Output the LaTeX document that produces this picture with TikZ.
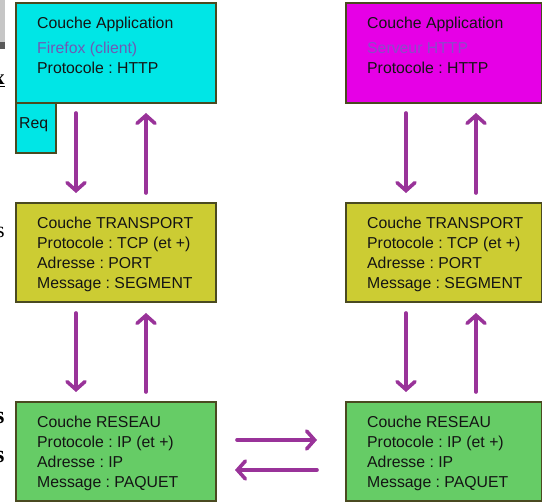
\documentclass[tikz,border=0pt]{standalone}
\usepackage{fontspec}
\setmainfont{Liberation Sans}
\newfontfamily\serifpart{Liberation Serif}
\usetikzlibrary{arrows.meta}
\frenchspacing
\definecolor{appcyan}{HTML}{00E6E6}
\definecolor{appmagenta}{HTML}{E600E6}
\definecolor{transolive}{HTML}{CCCC33}
\definecolor{netgreen}{HTML}{66CC66}
\definecolor{edgebrown}{HTML}{4A4A20}
\definecolor{flowpurple}{HTML}{993399}
\definecolor{softviolet}{HTML}{6E5AB4}
\definecolor{dimviolet}{HTML}{8A4CC8}
\definecolor{inkdark}{HTML}{141414}
\tikzset{
  layer/.style={draw=edgebrown, line width=1.8pt},
  lbl/.style={anchor=base west, inner sep=0pt, text=inkdark,
    font=\fontsize{15.8}{18}\selectfont},
  flow/.style={draw=flowpurple, line width=3.6pt, line cap=round,
    -{Straight Barb[length=8pt, width=18pt, line cap=round]}},
  scrap/.style={anchor=base west, inner sep=0pt, font=\serifpart\fontsize{22}{24}\selectfont},
}
\begin{document}
\begin{tikzpicture}[x=1pt, y=-1pt]
\useasboundingbox (0,0) rectangle (542,502);
\clip (0,0) rectangle (542,502);

% fragments of neighbouring page content at the left edge
\fill[gray!45] (-5,-2) rectangle (4.5,42);
\fill[black!65] (-5,42) rectangle (4.5,49);
\node[scrap, font=\serifpart\bfseries\fontsize{21}{24}\selectfont] (fx) at (-6,85) {\underline{x}};
\node[scrap] (fs1) at (-4,238) {s};
\node[scrap, font=\serifpart\bfseries\fontsize{24}{26}\selectfont] (fs2) at (-5,424) {s};
\node[scrap, font=\serifpart\bfseries\fontsize{24}{26}\selectfont] (fs3) at (-5,463) {s};

% layer boxes
\path[layer, fill=appcyan] (16,3) rectangle (216,103);
\path[layer, fill=appcyan] (16,103) rectangle (56,153);
\path[layer, fill=appmagenta] (346,3) rectangle (542,103);

\path[layer, fill=transolive] (16,203) rectangle (216,302);
\path[layer, fill=transolive] (346,203) rectangle (542,302);
\path[layer, fill=netgreen] (16,402) rectangle (216,501);
\path[layer, fill=netgreen] (346,402) rectangle (542,501);

% box labels
\node[lbl] (a1) at (37,29) {Couche Application};
\node[lbl, text=softviolet] (a2) at (37,54) {Firefox (client)};
\node[lbl] (a3) at (37,74) {Protocole : HTTP};
\node[lbl] (req) at (19,129) {Req};

\node[lbl] (b1) at (367,29) {Couche Application};
\node[lbl, text=dimviolet] (b2) at (367,54) {Serveur HTTP};
\node[lbl] (b3) at (367,74) {Protocole : HTTP};

\node[lbl] (c1) at (37,228.5) {Couche TRANSPORT};
\node[lbl] (c2) at (37,248.5) {Protocole : TCP (et +)};
\node[lbl] (c3) at (37,268.5) {Adresse : PORT};
\node[lbl] (c4) at (37,288.5) {Message : SEGMENT};

\node[lbl] (d1) at (367,228.5) {Couche TRANSPORT};
\node[lbl] (d2) at (367,248.5) {Protocole : TCP (et +)};
\node[lbl] (d3) at (367,268.5) {Adresse : PORT};
\node[lbl] (d4) at (367,288.5) {Message : SEGMENT};

\node[lbl] (e1) at (37,427.5) {Couche RESEAU};
\node[lbl] (e2) at (37,447.5) {Protocole : IP (et +)};
\node[lbl] (e3) at (37,467.5) {Adresse : IP};
\node[lbl] (e4) at (37,487.5) {Message : PAQUET};

\node[lbl] (f1) at (367,427.5) {Couche RESEAU};
\node[lbl] (f2) at (367,447.5) {Protocole : IP (et +)};
\node[lbl] (f3) at (367,467.5) {Adresse : IP};
\node[lbl] (f4) at (367,487.5) {Message : PAQUET};

% arrow end points
\foreach \col/\xd/\xu in {L/76/146, R/406/476}{
  \coordinate (t1\col) at (\xd,113);
  \coordinate (h1\col) at (\xd,193);
  \coordinate (t2\col) at (\xu,193);
  \coordinate (h2\col) at (\xu,113);
  \coordinate (t3\col) at (\xd,313);
  \coordinate (h3\col) at (\xd,392);
  \coordinate (t4\col) at (\xu,392);
  \coordinate (h4\col) at (\xu,313);
}
\coordinate (rt) at (237,440);
\coordinate (rh) at (317,440);
\coordinate (lt) at (317,470);
\coordinate (lh) at (235,470);

% data flow between layers
\foreach \col in {L,R}{
  \draw[flow] (t1\col) -- (h1\col);
  \draw[flow] (t2\col) -- (h2\col);
  \draw[flow] (t3\col) -- (h3\col);
  \draw[flow] (t4\col) -- (h4\col);
}
\draw[flow] (rt) -- (rh);
\draw[flow] (lt) -- (lh);
\end{tikzpicture}
\end{document}
